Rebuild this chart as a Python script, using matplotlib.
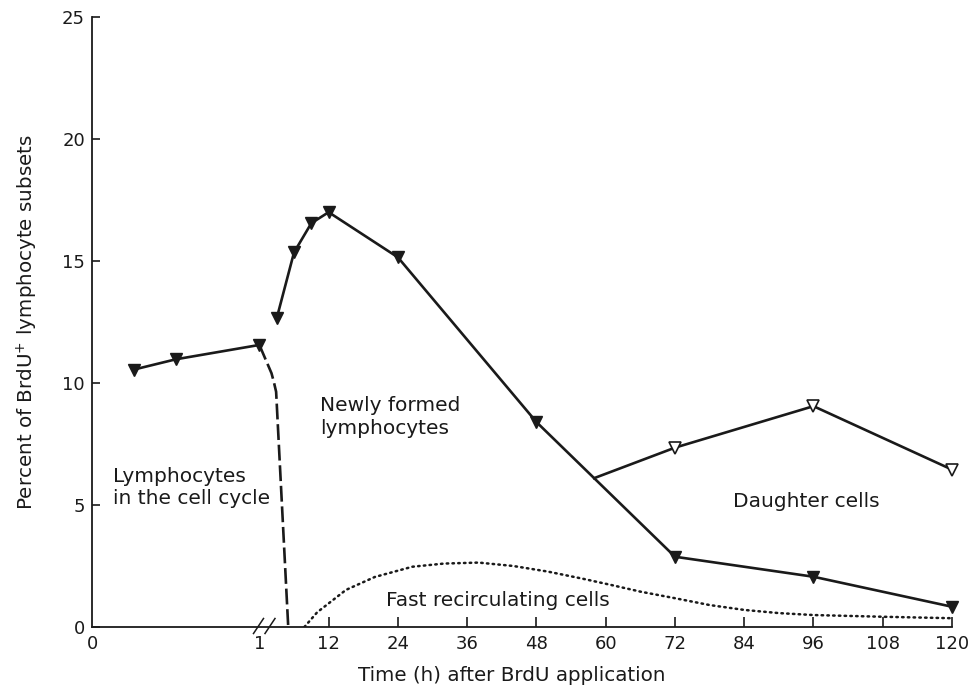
import numpy as np
import matplotlib
matplotlib.use("Agg")
import matplotlib.pyplot as plt

# ---------------- data ----------------
# early phase (hours 0..1, drawn on an expanded scale left of the axis break)
cycle_t = [0.25, 0.5, 1.0]
cycle_y = [10.55, 10.97, 11.56]

# dashed decline of cycling lymphocytes
decline_t = [1.0, 2.1, 2.5, 2.9, 5.0]
decline_y = [11.56, 10.4, 10.05, 9.64, 0.0]

# newly formed lymphocytes
new_t = [3, 6, 9, 12, 24, 48, 72, 96, 120]
new_y = [12.65, 15.35, 16.55, 17.0, 15.15, 8.4, 2.88, 2.06, 0.83]

# daughter cells (branch from the newly formed line)
dau_t = [58, 72, 96, 120]
dau_y = [6.1, 7.35, 9.05, 6.45]

# fast recirculating cells (dotted curve)
fast_t = [7.8, 10, 15, 20, 26.5, 32, 38, 44, 50, 56, 61, 66, 72, 78, 84, 90, 96, 108, 120]
fast_y = [0.0, 0.6, 1.52, 2.05, 2.47, 2.6, 2.64, 2.5, 2.27, 1.98, 1.72, 1.45, 1.18, 0.9, 0.7, 0.57, 0.49, 0.42, 0.36]

xtick_vals = [0, 1, 12, 24, 36, 48, 60, 72, 84, 96, 108, 120]
xtick_labels = ["0", "1", "12", "24", "36", "48", "60", "72", "84", "96", "108", "120"]
ytick_vals = [0, 5, 10, 15, 20, 25]

# ---------------- broken time scale ----------------
EXP = 29.0  # width of the first hour, in later-hour units

def fwd(h):
    h = np.asarray(h, dtype=float)
    return np.where(h <= 1, (h - 1.0) * EXP, h)

def inv(p):
    p = np.asarray(p, dtype=float)
    return np.where(p <= 0, p / EXP + 1.0, p)

W, H = 972, 690
fig = plt.figure(figsize=(W / 100, H / 100), dpi=100)
ax = fig.add_axes([92 / W, 1 - 627 / H, 860 / W, 610 / H])
ax.set_xscale("function", functions=(fwd, inv))
ax.set_xlim(0, 120)
ax.set_ylim(0, 25)

lw = 1.9
k = "#1a1a1a"
ax.plot(cycle_t, cycle_y, color=k, lw=lw, marker="v", ms=9, mfc=k, mec=k, clip_on=False, zorder=3)
ax.plot(decline_t, decline_y, color=k, lw=lw, linestyle=(0, (6, 1.8)), zorder=2)
ax.plot(new_t, new_y, color=k, lw=lw, marker="v", ms=9, mfc=k, mec=k, clip_on=False, zorder=3)
ax.plot(dau_t, dau_y, color=k, lw=lw, marker="v", ms=9, mfc="white", mec=k, mew=1.2,
        markevery=[1, 2, 3], clip_on=False, zorder=3)
ax.plot(fast_t, fast_y, color=k, lw=1.8, linestyle=(0, (0.6, 1.7)), dash_capstyle="round", zorder=2)

# axes styling
for s in ["top", "right"]:
    ax.spines[s].set_visible(False)
for s in ["left", "bottom"]:
    ax.spines[s].set_linewidth(1.3)
    ax.spines[s].set_color(k)

ax.set_xticks(xtick_vals)
ax.set_xticklabels(xtick_labels)
ax.xaxis.set_minor_locator(matplotlib.ticker.NullLocator())
ax.set_yticks(ytick_vals)
ax.tick_params(axis="x", direction="in", length=7, width=1.2, pad=6, labelsize=13, colors=k)
ax.tick_params(axis="y", direction="in", length=6, width=1.2, pad=5, labelsize=13, colors=k)
for t in ax.xaxis.get_major_ticks()[:2]:
    t.tick1line.set_visible(False)

ax.set_xlabel("Time (h) after BrdU application", fontsize=14.3, color=k)
ax.xaxis.set_label_coords((512 - 92) / 860, (627 - 666) / 610)
ax.set_ylabel("Percent of BrdU$^{+}$ lymphocyte subsets", fontsize=14.3, color=k)
ax.yaxis.set_label_coords((40 - 92) / 860, 0.5)

# axis break marks
for x0 in (253.5, 265.0):
    ax.plot([(x0 - 92) / 860, (x0 + 10 - 92) / 860],
            [(627 - 633.5) / 610, (627 - 618.5) / 610],
            transform=ax.transAxes, color=k, lw=1.1, clip_on=False)

# annotations
def ftext(x, y, s):
    fig.text(x / W, 1 - y / H, s, fontsize=14.5, ha="left", va="baseline", color=k)

ftext(113, 481.5, "Lymphocytes")
ftext(113, 503.5, "in the cell cycle")
ftext(320, 410.5, "Newly formed")
ftext(320, 434, "lymphocytes")
ftext(733, 507, "Daughter cells")
ftext(386, 606.5, "Fast recirculating cells")

fig.savefig("out.png", dpi=100)
